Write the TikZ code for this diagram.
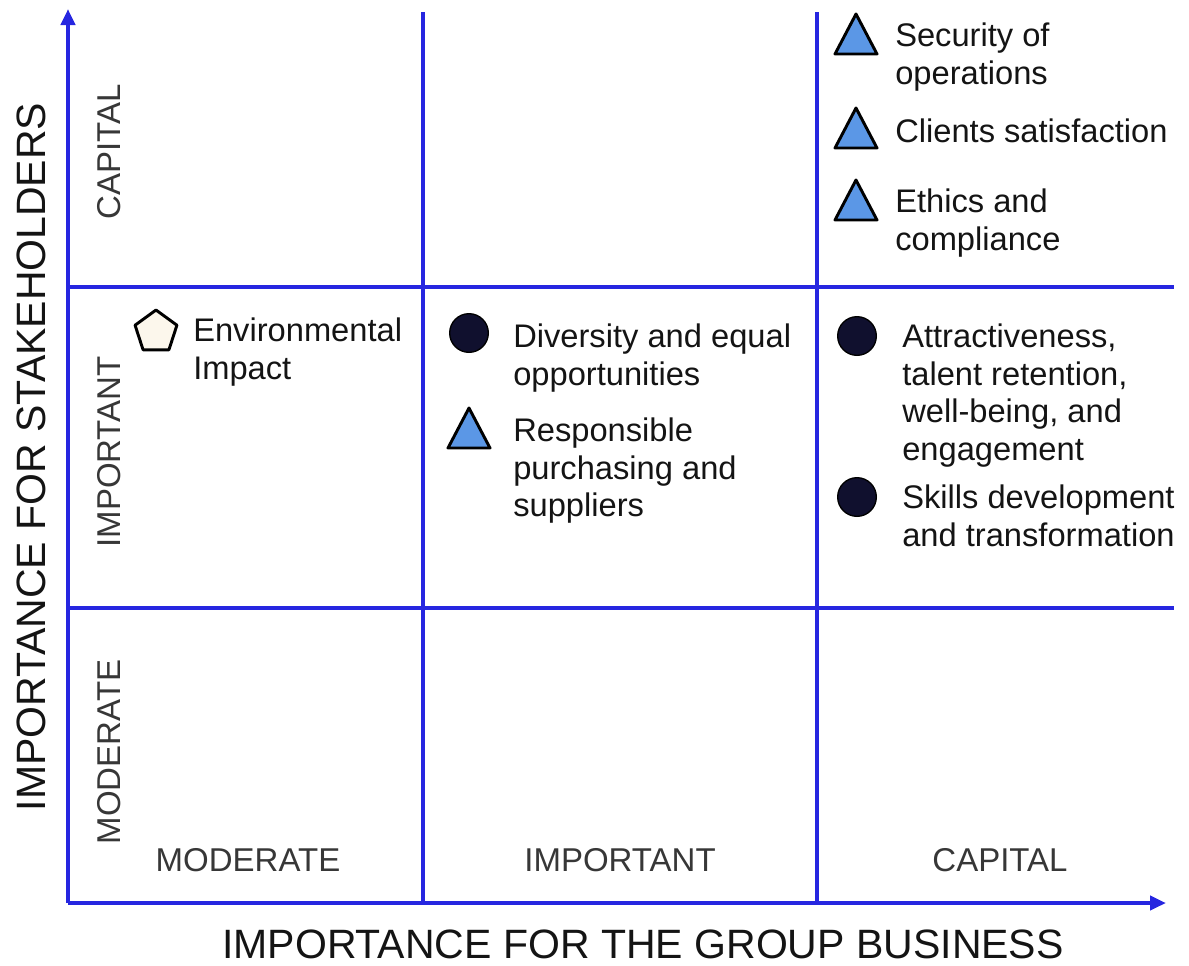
\documentclass[tikz,border=0pt]{standalone}
\usepackage{fontspec}
\setmainfont{Liberation Sans}
\usetikzlibrary{arrows.meta}
\definecolor{gridblue}{HTML}{2626E0}
\definecolor{markblue}{HTML}{5B97E6}
\definecolor{marknavy}{HTML}{10102E}
\definecolor{markcream}{HTML}{FCF7EC}
\definecolor{inktext}{HTML}{141414}

\begin{document}
\begin{tikzpicture}[x=0.75pt,y=-0.75pt,
  gridline/.style={draw=gridblue,line width=3pt},
  axisline/.style={gridline,-{Triangle[length=12pt,width=10.5pt]}},
  itemtext/.style={anchor=north west,inner sep=0pt,align=left,text=inktext,
    font=\fontsize{24.5pt}{28.2pt}\selectfont},
  levelx/.style={anchor=base,inner sep=0pt,text=inktext!85,
    font=\fontsize{24.75pt}{28pt}\selectfont},
  levely/.style={levelx,rotate=90},
  axistitle/.style={anchor=base,inner sep=0pt,text=inktext,
    font=\fontsize{30.75pt}{34pt}\selectfont},
  markline/.style={draw=black,line width=2.2pt,line join=round},
  dot/.style={circle,fill=marknavy,draw=black,line width=1pt,minimum size=29pt,inner sep=0pt},
  tri/.pic={\path[markline,fill=markblue] (-21,20) -- (0,-20) -- (21,20) -- cycle;},
  penta/.pic={\path[markline,fill=markcream] (-90:22) -- (-18:22) -- (54:22) -- (126:22) -- (198:22) -- cycle;}
]
\useasboundingbox (0,0) rectangle (1189,965);

% grid corners and axis ends
\coordinate (o) at (68,903);
\coordinate (ytop) at (68,9);
\coordinate (xend) at (1166,903);
\coordinate (v1t) at (423,12);
\coordinate (v1b) at (423,903);
\coordinate (v2t) at (817,12);
\coordinate (v2b) at (817,903);
\coordinate (h1l) at (68,287);
\coordinate (h1r) at (1174,287);
\coordinate (h2l) at (68,608);
\coordinate (h2r) at (1174,608);

% quadrant grid
\draw[gridline] (v1t) -- (v1b);
\draw[gridline] (v2t) -- (v2b);
\draw[gridline] (h1l) -- (h1r);
\draw[gridline] (h2l) -- (h2r);

% axes
\draw[axisline] (o) -- (ytop);
\draw[axisline] (o) -- (xend);

% axis titles
\node[axistitle] (xtitle) at (643,958) {IMPORTANCE FOR THE GROUP BUSINESS};
\node[axistitle,rotate=90] (ytitle) at (45,457) {IMPORTANCE FOR STAKEHOLDERS};

% level labels
\node[levelx] (xmod) at (248,871) {MODERATE};
\node[levelx] (ximp) at (620,871) {IMPORTANT};
\node[levelx] (xcap) at (1000,871) {CAPITAL};
\node[levely] (ycap) at (120,152) {CAPITAL};
\node[levely] (yimp) at (120,452) {IMPORTANT};
\node[levely] (ymod) at (120,752) {MODERATE};

% markers
\pic (env) at (156,332) {penta};
\node[dot] (div) at (469,333) {};
\pic (resp) at (469,428) {tri};
\pic (sec) at (856,34) {tri};
\pic (cli) at (856,128) {tri};
\pic (eth) at (856,200) {tri};
\node[dot] (att) at (857,336) {};
\node[dot] (ski) at (857,497) {};

% item texts
\node[itemtext] (tenv) at (193,315) {\strut Environmental\\Impact};
\node[itemtext] (tdiv) at (513,321) {\strut Diversity and equal\\opportunities};
\node[itemtext] (tresp) at (513,415) {\strut Responsible\\purchasing and\\suppliers};
\node[itemtext] (tsec) at (895,20) {\strut Security of\\operations};
\node[itemtext] (tcli) at (895,116) {\strut Clients satisfaction};
\node[itemtext] (teth) at (895,186) {\strut Ethics and\\compliance};
\node[itemtext] (tatt) at (902,321) {\strut Attractiveness,\\talent retention,\\well-being, and\\engagement};
\node[itemtext] (tski) at (902,482) {\strut Skills development\\and transformation};
\end{tikzpicture}
\end{document}
